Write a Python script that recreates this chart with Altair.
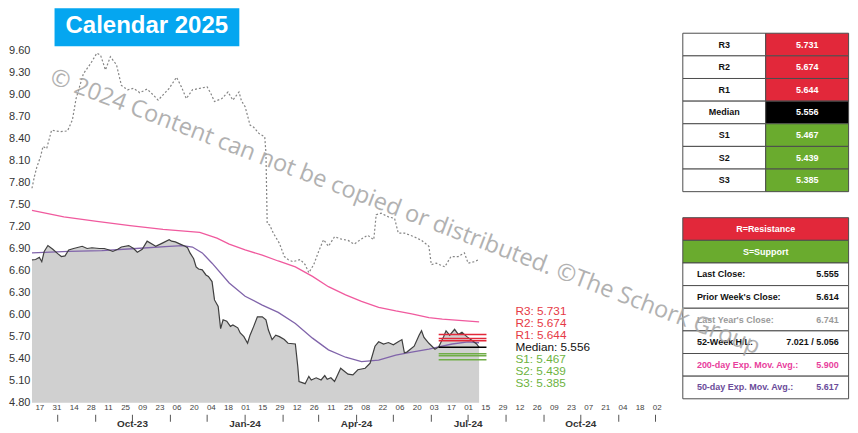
import altair as alt
import pandas as pd

# ---------------- data ----------------
price_dates = ["2023-07-11","2023-07-14","2023-07-17","2023-07-19","2023-07-21","2023-07-24","2023-07-28","2023-08-01","2023-08-04","2023-08-07",
               "2023-08-10","2023-08-14","2023-08-21","2023-08-25","2023-08-29","2023-09-04","2023-09-08","2023-09-12","2023-09-15","2023-09-19",
               "2023-09-22","2023-09-28","2023-10-02","2023-10-05","2023-10-09","2023-10-13","2023-10-18","2023-10-20","2023-10-25","2023-10-31",
               "2023-11-02","2023-11-05","2023-11-09","2023-11-13","2023-11-15","2023-11-17","2023-11-20","2023-11-22","2023-11-24","2023-11-27",
               "2023-11-30","2023-12-02","2023-12-05","2023-12-07","2023-12-10","2023-12-12","2023-12-14","2023-12-17","2023-12-20","2023-12-22",
               "2023-12-26","2023-12-28","2023-12-31","2024-01-03","2024-01-05","2024-01-08","2024-01-11","2024-01-15","2024-01-18","2024-01-20",
               "2024-01-23","2024-01-26","2024-01-29","2024-02-02","2024-02-05","2024-02-11","2024-02-13","2024-02-14","2024-02-19","2024-02-22",
               "2024-02-24","2024-02-28","2024-03-03","2024-03-06","2024-03-08","2024-03-11","2024-03-14","2024-03-16","2024-03-19","2024-03-22",
               "2024-03-25","2024-03-29","2024-04-02","2024-04-08","2024-04-12","2024-04-16","2024-04-19","2024-04-23","2024-04-27","2024-05-01",
               "2024-05-05","2024-05-08","2024-05-10","2024-05-12","2024-05-18","2024-05-22","2024-05-24","2024-05-26","2024-05-30","2024-06-04",
               "2024-06-07","2024-06-11","2024-06-13","2024-06-16","2024-06-20","2024-06-23","2024-06-26","2024-06-30","2024-07-04","2024-07-08",
               "2024-07-10"]
price_values = [6.745,6.75,6.78,6.72,6.86,6.94,6.89,6.83,6.79,6.80,
                6.88,6.90,6.93,6.90,6.91,6.90,6.90,6.88,6.86,6.89,
                6.92,6.94,6.90,6.85,6.89,7.00,6.95,6.93,6.97,7.02,
                7.00,6.99,6.96,6.93,6.91,6.84,6.76,6.65,6.62,6.61,
                6.54,6.52,6.45,6.20,6.11,5.81,5.93,5.91,5.84,5.86,
                5.82,5.75,5.70,5.61,5.72,5.84,5.97,5.97,5.93,5.79,
                5.66,5.72,5.70,5.66,5.61,5.60,5.29,5.09,5.06,5.16,
                5.11,5.14,5.11,5.17,5.12,5.14,5.09,5.16,5.27,5.23,
                5.19,5.18,5.25,5.27,5.34,5.57,5.63,5.60,5.62,5.59,
                5.63,5.66,5.48,5.49,5.57,5.72,5.78,5.69,5.61,5.53,
                5.56,5.70,5.78,5.72,5.80,5.73,5.76,5.70,5.65,5.60,
                5.555]

prior_dates = ["2023-07-11","2023-07-13","2023-07-15","2023-07-18","2023-07-20","2023-07-23","2023-07-27","2023-08-03","2023-08-09","2023-08-13",
               "2023-08-16","2023-08-22","2023-08-28","2023-09-02","2023-09-05","2023-09-09","2023-09-13","2023-09-18","2023-09-22","2023-09-27",
               "2023-10-02","2023-10-07","2023-10-13","2023-10-18","2023-10-22","2023-10-26","2023-10-31","2023-11-06","2023-11-10","2023-11-14",
               "2023-11-19","2023-11-25","2023-12-01","2023-12-04","2023-12-07","2023-12-13","2023-12-18","2023-12-22","2023-12-27","2023-12-29",
               "2024-01-01","2024-01-05","2024-01-08","2024-01-12","2024-01-17","2024-01-18","2024-01-19","2024-01-21","2024-01-24","2024-01-29",
               "2024-02-02","2024-02-05","2024-02-09","2024-02-15","2024-02-19","2024-02-22","2024-02-26","2024-03-01","2024-03-05","2024-03-09",
               "2024-03-14","2024-03-19","2024-03-25","2024-03-30","2024-04-05","2024-04-10","2024-04-15","2024-04-17","2024-04-21","2024-04-27",
               "2024-05-02","2024-05-05","2024-05-10","2024-05-18","2024-05-24","2024-05-30","2024-06-01","2024-06-05","2024-06-12","2024-06-17",
               "2024-06-23","2024-06-28","2024-07-01","2024-07-06","2024-07-10"]
prior_values = [7.72,7.88,8.01,8.15,8.29,8.26,8.51,8.49,8.50,8.65,
                8.94,9.28,9.42,9.56,9.53,9.33,9.51,9.40,9.12,9.06,
                9.08,9.02,9.07,8.99,8.92,8.99,9.08,9.23,9.10,8.94,
                9.06,9.08,9.10,9.01,8.90,8.94,9.03,8.92,9.03,8.91,
                8.83,8.58,8.55,8.47,8.42,8.20,7.24,7.22,7.11,6.97,
                6.79,6.75,6.72,6.75,6.68,6.57,6.68,6.86,7.02,6.93,
                7.06,7.03,7.01,6.96,7.03,7.08,7.02,7.36,7.38,7.33,
                7.31,7.11,7.11,7.06,7.01,6.93,6.68,6.70,6.65,6.79,
                6.79,6.84,6.70,6.72,6.75]

ema200_dates = ["2023-07-11","2023-08-06","2023-09-02","2023-09-29","2023-10-26","2023-11-25","2023-12-09","2023-12-19","2024-01-01","2024-01-15",
                "2024-01-28","2024-02-11","2024-02-25","2024-03-09","2024-03-23","2024-04-05","2024-04-19","2024-05-03","2024-05-16","2024-05-30",
                "2024-06-10","2024-07-10"]
ema200_values = [7.42,7.33,7.27,7.21,7.16,7.12,7.04,6.96,6.88,6.81,
                 6.73,6.65,6.52,6.38,6.27,6.18,6.10,6.05,6.01,5.96,
                 5.94,5.90]

ema50_dates = ["2023-07-11","2023-08-10","2023-09-06","2023-10-04","2023-10-31","2023-11-11","2023-11-19","2023-11-27","2023-12-05","2023-12-19",
               "2024-01-01","2024-01-15","2024-01-28","2024-02-11","2024-02-25","2024-03-09","2024-03-23","2024-04-05","2024-04-19","2024-05-03",
               "2024-05-16","2024-05-30","2024-06-07","2024-06-18","2024-07-01","2024-07-10"]
ema50_values = [6.84,6.86,6.87,6.90,6.93,6.94,6.92,6.84,6.70,6.43,
                6.25,6.13,6.03,5.88,5.68,5.52,5.42,5.36,5.38,5.45,
                5.49,5.53,5.56,5.60,5.63,5.617]

pivot_names = ["R3", "R2", "R1", "Median", "S1", "S2", "S3"]
pivot_values = [5.731, 5.674, 5.644, 5.556, 5.467, 5.439, 5.385]
pivot_kinds = ["R", "R", "R", "M", "S", "S", "S"]
pivot_span = ["2024-06-07", "2024-07-16"]

day_ticks = ["2023-07-17","2023-07-31","2023-08-14","2023-08-28","2023-09-11","2023-09-25","2023-10-09","2023-10-23","2023-11-06","2023-11-20",
             "2023-12-04","2023-12-18","2024-01-01","2024-01-15","2024-01-29","2024-02-12","2024-02-26","2024-03-11","2024-03-25","2024-04-08",
             "2024-04-22","2024-05-06","2024-05-20","2024-06-03","2024-06-17","2024-07-01","2024-07-15","2024-07-29","2024-08-12","2024-08-26",
             "2024-09-09","2024-09-23","2024-10-07","2024-10-21","2024-11-04","2024-11-18","2024-12-02"]
month_ticks = ["2023-08-01","2023-09-01","2023-10-01","2023-11-01","2023-12-01","2024-01-01","2024-02-01","2024-03-01","2024-04-01",
               "2024-05-01","2024-06-01","2024-07-01","2024-08-01","2024-09-01","2024-10-01","2024-11-01","2024-12-01"]
quarter_dates = ["2023-10-01", "2024-01-01", "2024-04-01", "2024-07-01", "2024-10-01"]
quarter_labels = ["Oct-23", "Jan-24", "Apr-24", "Jul-24", "Oct-24"]
x_domain = ["2023-07-11", "2024-12-13"]
y_ticks = [4.8, 5.1, 5.4, 5.7, 6.0, 6.3, 6.6, 6.9, 7.2, 7.5, 7.8, 8.1, 8.4, 8.7, 9.0, 9.3, 9.6]

header_texts = ["R=Resistance", "S=Support"]
stats_labels = ["Last Close:", "Prior Week's Close:", "Last Year's Close:", "52-Week H/L:",
                "200-day Exp. Mov. Avg.:", "50-day Exp. Mov. Avg.:"]
stats_values = ["5.555", "5.614", "6.741", "7.021 / 5.056", "5.900", "5.617"]

title_text = "Calendar 2025"
watermark_text = "\u00a9 2024 Content can not be copied or distributed. \u00a9The Schork Group"

# ---------------- styling ----------------
RED = "#E2283A"
GREEN = "#6AAB2E"
PINK = "#F05A9E"
PURPLE = "#8064AA"
kind_fill = {"R": RED, "M": "#000000", "S": GREEN}
kind_text = {"R": "#E63946", "M": "#111111", "S": "#6DB33F"}
stats_colors = ["#111111", "#111111", "#9a9a9a", "#111111", "#E8409C", "#6B4C9A"]
FONT = "Liberation Sans"

W, H = 818, 395
X_RANGE = 639


def dt(s):
    t = pd.Timestamp(s)
    return alt.DateTime(year=t.year, month=t.month, date=t.day)


x_scale = alt.Scale(domain=[dt(d) for d in x_domain], range=[0, X_RANGE], nice=False)
y_scale = alt.Scale(domain=[4.8, 10.17], zero=False, nice=False)
x_axis = alt.Axis(values=[dt(d) for d in day_ticks], format="%d", labelFontSize=8, labelColor="#444",
                  labelPadding=1, ticks=False, domain=False, grid=False, title=None,
                  labelOverlap=False, labelFlush=False, labelFont=FONT)
y_axis = alt.Axis(values=y_ticks, format=".2f", labelFontSize=11, labelColor="#333", labelPadding=2,
                  ticks=False, domain=False, grid=False, title=None, labelFont=FONT)


def X(field="date"):
    return alt.X(f"{field}:T", scale=x_scale, axis=x_axis)


def Y(field="value"):
    return alt.Y(f"{field}:Q", scale=y_scale, axis=y_axis)


def series(dates, values):
    return pd.DataFrame({"date": pd.to_datetime(dates), "value": values})


price_df = series(price_dates, price_values)
prior_df = series(prior_dates, prior_values)
ema200_df = series(ema200_dates, ema200_values)
ema50_df = series(ema50_dates, ema50_values)

area = alt.Chart(price_df).mark_area(color="#d0d0d0").encode(x=X(), y=Y(), y2=alt.datum(4.8))
price_line = alt.Chart(price_df).mark_line(color="#3f3f3f", strokeWidth=1.2).encode(x=X(), y=Y())
prior_line = alt.Chart(prior_df).mark_line(color="#858585", strokeWidth=1.2, strokeDash=[2, 2]).encode(x=X(), y=Y())
ema200_line = alt.Chart(ema200_df).mark_line(color=PINK, strokeWidth=1.3).encode(x=X(), y=Y())
ema50_line = alt.Chart(ema50_df).mark_line(color=PURPLE, strokeWidth=1.3).encode(x=X(), y=Y())

median_value = pivot_values[pivot_names.index("Median")]
label_step = 0.1632  # vertical spacing of the stacked labels, in price units
pivot_df = pd.DataFrame({
    "name": pivot_names,
    "value": pivot_values,
    "start": pd.to_datetime([pivot_span[0]] * 7),
    "end": pd.to_datetime([pivot_span[1]] * 7),
    "line_color": [kind_fill[k] if k != "S" else "#70AD47" for k in pivot_kinds],
    "text_color": [kind_text[k] for k in pivot_kinds],
    "label": [f"{n}: {v:.3f}" for n, v in zip(pivot_names, pivot_values)],
    "slot": [median_value + (3 - i) * label_step for i in range(7)],
})
pivot_rules = alt.Chart(pivot_df).mark_rule(strokeWidth=1.5).encode(
    x=X("start"), x2="end:T", y=Y(), color=alt.Color("line_color:N", scale=None))
pivot_text = alt.Chart(pivot_df).mark_text(align="left", baseline="middle", dx=29, fontSize=11.8, font=FONT).encode(
    x=X("end"), y=Y("slot"), text="label:N", color=alt.Color("text_color:N", scale=None))

month_df = pd.DataFrame({"date": pd.to_datetime(month_ticks)})
month_rules = alt.Chart(month_df).mark_rule(color="#555555", strokeWidth=1).encode(
    x=X(), y=alt.value(H + 12), y2=alt.value(H + 19))
quarter_df = pd.DataFrame({"date": pd.to_datetime(quarter_dates), "label": quarter_labels})
quarter_text = alt.Chart(quarter_df).mark_text(fontSize=10, fontWeight="bold", color="#333333",
                                               baseline="middle", font=FONT).encode(
    x=X(), y=alt.value(H + 21), text="label:N")

main = alt.layer(area, prior_line, ema200_line, ema50_line, price_line, pivot_rules, pivot_text,
                 month_rules, quarter_text)

# ---------------- tables ----------------
gap_rows = 1.15
t2_top = len(pivot_names) + gap_rows
cells, center_t, left_t, right_t = [], [], [], []
for i, (n, v, k) in enumerate(zip(pivot_names, pivot_values, pivot_kinds)):
    cells.append(dict(x0=0, x1=1, y0=i, y1=i + 1, fill="#ffffff"))
    cells.append(dict(x0=1, x1=2, y0=i, y1=i + 1, fill=kind_fill[k]))
    center_t.append(dict(tx=0.5, ty=i + 0.5, text=n, color="#111111"))
    center_t.append(dict(tx=1.5, ty=i + 0.5, text=f"{v:.3f}", color="#ffffff"))
for j, (txt, fill) in enumerate(zip(header_texts, [RED, GREEN])):
    cells.append(dict(x0=0, x1=2, y0=t2_top + j, y1=t2_top + j + 1, fill=fill))
    center_t.append(dict(tx=1.0, ty=t2_top + j + 0.5, text=txt, color="#ffffff"))
for j, (lab, val, col) in enumerate(zip(stats_labels, stats_values, stats_colors)):
    r = t2_top + 2 + j
    cells.append(dict(x0=0, x1=2, y0=r, y1=r + 1, fill="#ffffff"))
    left_t.append(dict(tx=0.17, ty=r + 0.5, text=lab, color=col))
    right_t.append(dict(tx=1.88, ty=r + 0.5, text=val, color=col))

t_rows = t2_top + 2 + len(stats_labels)
tx_scale = alt.Scale(domain=[0, 2], range=[651.6, 817.6], nice=False, zero=False)
ty_scale = alt.Scale(domain=[0, t_rows], range=[25, 391], nice=False, zero=False)

table_rect = alt.Chart(pd.DataFrame(cells)).mark_rect(stroke="#4d4d4d", strokeWidth=1).encode(
    x=alt.X("x0:Q", scale=tx_scale, axis=None), x2="x1:Q",
    y=alt.Y("y0:Q", scale=ty_scale, axis=None), y2="y1:Q",
    fill=alt.Fill("fill:N", scale=None))


def table_text(rows, align):
    return alt.Chart(pd.DataFrame(rows)).mark_text(align=align, baseline="middle", fontSize=9,
                                                   fontWeight="bold", font=FONT).encode(
        x=alt.X("tx:Q", scale=tx_scale, axis=None),
        y=alt.Y("ty:Q", scale=ty_scale, axis=None),
        text="text:N", color=alt.Color("color:N", scale=None))


# ---------------- title & watermark ----------------
title_df = pd.DataFrame({"text": [title_text]})
title_rect = alt.Chart(title_df).mark_rect(color="#05A6F0").encode(
    x=alt.value(22.6), x2=alt.value(207.6), y=alt.value(0), y2=alt.value(38))
title_label = alt.Chart(title_df).mark_text(color="white", fontSize=24, fontWeight="bold", font=FONT,
                                            baseline="middle").encode(
    x=alt.value(115), y=alt.value(17.5), text="text:N")
wm_df = pd.DataFrame({"text": [watermark_text]})
watermark = alt.Chart(wm_df).mark_text(angle=21, fontSize=23.5, font="Open Sans", color="#a4a4a4",
                                       opacity=0.85, baseline="middle").encode(
    x=alt.value(373.6), y=alt.value(204), text="text:N")

chart = alt.layer(
    main, table_rect, table_text(center_t, "center"), table_text(left_t, "left"),
    table_text(right_t, "right"), title_rect, title_label, watermark
).resolve_scale(x="independent", y="independent").properties(
    width=W, height=H, padding=0, background="white"
).configure_view(stroke=None)

chart.save("out.html", embed_options={"renderer": "svg", "actions": False})
